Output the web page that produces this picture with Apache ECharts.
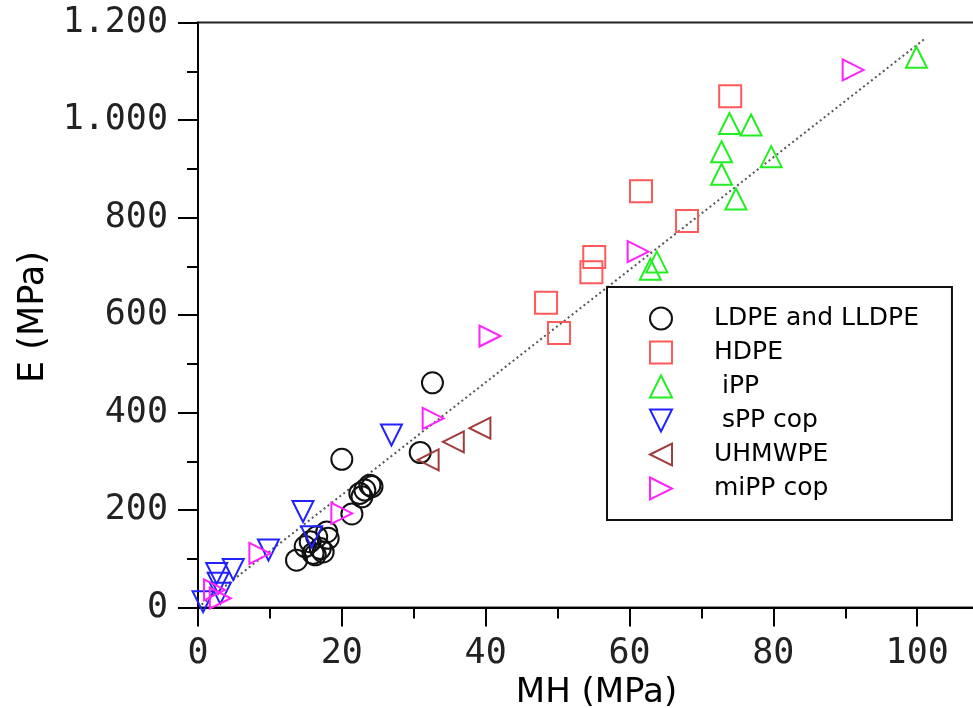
<!DOCTYPE html>
<html>
<head>
<meta charset="utf-8">
<script src="https://cdn.jsdelivr.net/npm/echarts@6/dist/echarts.min.js"></script>
<style>html,body{margin:0;padding:0;background:#fff}#c{width:973px;height:708px}</style>
</head>
<body>
<div id="c"></div>
<script>
// ---- data (MH in MPa, E in MPa) ----
const seriesNames = ['LDPE and LLDPE', 'HDPE', ' iPP', ' sPP cop', 'UHMWPE', 'miPP cop'];

const ldpeX = [32.6, 20.0, 30.9, 23.9, 24.2, 23.2, 22.5, 22.8, 21.4, 13.7, 16.0, 17.0, 15.6, 18.1, 16.5, 17.4, 14.9, 17.9, 16.3];
const ldpeY = [461, 304, 318, 251, 248, 241, 234, 227, 192, 97, 111, 121, 135, 142, 145, 114, 125, 155, 108];

const hdpeX = [74.0, 61.6, 68.0, 55.1, 54.7, 48.4, 50.2];
const hdpeY = [1049, 854, 793, 719, 688, 625, 563];

const ippX = [99.9, 73.9, 76.9, 72.8, 72.8, 79.7, 74.8, 62.9, 63.8];
const ippY = [1129, 993, 990, 935, 889, 925, 838, 694, 709];

const sppX = [26.9, 14.6, 15.8, 9.8, 4.9, 2.6, 2.8, 3.1, 0.7];
const sppY = [354, 197, 145, 118, 78, 70, 50, 29, 12];

const uhmwX = [39.2, 35.5, 32.0];
const uhmwY = [368, 340, 303];

const mippX = [91.1, 61.2, 40.6, 32.7, 20.0, 8.6, 2.3, 3.1];
const mippY = [1103, 730, 557, 388, 193, 111, 36, 19];

// linear fit (dotted)
const fitX = [0.5, 101];
const fitY = [6, 1166];

// tick labels
const yTickLabels = ['0', '200', '400', '600', '800', '1.000', '1.200'];
const xTickLabels = ['0', '20', '40', '60', '80', '100'];

const zip = (a, b) => a.map((v, i) => [v, b[i]]);

// legend icon shapes (drawn at native 21px size so the stroke is not scaled)
const TRI_UP = 'path://M10.5,0 L21,21 L0,21 Z';
const TRI_DOWN = 'path://M0,0 L21,0 L10.5,21 Z';
const TRI_LEFT = 'path://M0,10.5 L21,0 L21,21 Z';
const TRI_RIGHT = 'path://M0,0 L21,10.5 L0,21 Z';

const markerDefs = [
  { x: ldpeX, y: ldpeY, symbol: 'circle', icon: 'circle', rot: 0, color: '#111111', size: 21 },
  { x: hdpeX, y: hdpeY, symbol: 'rect', icon: 'rect', rot: 0, color: '#ff5a5a', size: 22 },
  { x: ippX, y: ippY, symbol: 'triangle', icon: TRI_UP, rot: 0, color: '#22ee22', size: 21 },
  { x: sppX, y: sppY, symbol: 'triangle', icon: TRI_DOWN, rot: 180, color: '#2222ff', size: 21 },
  { x: uhmwX, y: uhmwY, symbol: 'triangle', icon: TRI_LEFT, rot: 90, color: '#a03c3c', size: 21 },
  { x: mippX, y: mippY, symbol: 'triangle', icon: TRI_RIGHT, rot: -90, color: '#ff22ff', size: 21 }
];

const series = [{
  type: 'line',
  name: 'fit',
  data: zip(fitX, fitY),
  showSymbol: false,
  symbol: 'none',
  lineStyle: { color: '#555', width: 2, type: [2, 3] },
  silent: true,
  z: 1
}];
markerDefs.forEach((d, i) => {
  series.push({
    type: 'scatter',
    name: seriesNames[i],
    data: zip(d.x, d.y),
    symbol: d.symbol,
    symbolSize: d.size,
    symbolRotate: d.rot,
    symbolKeepAspect: true,
    itemStyle: { color: 'rgba(0,0,0,0)', borderColor: d.color, borderWidth: 2, opacity: 1 },
    z: 2
  });
});

const legendData = seriesNames.map((n, i) => ({
  name: n,
  icon: markerDefs[i].icon,
  itemStyle: { color: 'rgba(0,0,0,0)', borderColor: markerDefs[i].color, borderWidth: 2 }
}));

const chart = echarts.init(document.getElementById('c'), null, { renderer: 'canvas' });
chart.setOption({
  animation: false,
  backgroundColor: '#fff',
  grid: {
    left: 198, top: 22.6, height: 584.9, width: 863,
    containLabel: false, outerBoundsMode: 'none',
    show: true, borderColor: '#222', borderWidth: 2, backgroundColor: 'transparent'
  },
  xAxis: {
    type: 'value', min: 0, max: 120, interval: 20,
    name: 'MH (MPa)', nameLocation: 'middle', nameGap: 69,
    nameTextStyle: { fontFamily: 'DejaVu Sans', fontSize: 34, color: '#000', padding: [0, 0, 0, -66] },
    axisLine: { show: true, onZero: false, lineStyle: { color: '#000', width: 2 } },
    axisTick: { show: true, inside: false, length: 19, lineStyle: { color: '#000', width: 2 } },
    minorTick: { show: true, splitNumber: 2, length: 11, lineStyle: { color: '#000', width: 2 } },
    axisLabel: {
      margin: 29, fontFamily: 'DejaVu Sans Mono', fontSize: 35, color: '#222', showMaxLabel: false,
      formatter: v => { const i = Math.round(v / 20); return (v % 20 === 0 && i < xTickLabels.length) ? xTickLabels[i] : ''; }
    },
    splitLine: { show: false }
  },
  yAxis: {
    type: 'value', min: 0, max: 1200, interval: 200,
    name: 'E (MPa)', nameLocation: 'middle', nameGap: 143, nameRotate: 90,
    nameTextStyle: { fontFamily: 'DejaVu Sans', fontSize: 35, color: '#000', padding: [0, 0, 0, -4] },
    axisLine: { show: true, onZero: false, lineStyle: { color: '#000', width: 2 } },
    axisTick: { show: true, inside: false, length: 20, lineStyle: { color: '#000', width: 2 } },
    minorTick: { show: true, splitNumber: 2, length: 11, lineStyle: { color: '#000', width: 2 } },
    axisLabel: {
      margin: 30, fontFamily: 'DejaVu Sans Mono', fontSize: 35, color: '#222',
      formatter: v => yTickLabels[Math.round(v / 200)]
    },
    splitLine: { show: false }
  },
  legend: {
    data: legendData,
    orient: 'vertical',
    left: 607, top: 287,
    padding: [19, 33, 19, 42],
    itemWidth: 22, itemHeight: 22, itemGap: 9,
    symbolKeepAspect: true,
    borderColor: '#111', borderWidth: 2, backgroundColor: '#fff',
    textStyle: { fontFamily: 'DejaVu Sans', fontSize: 25, color: '#000', lineHeight: 22, padding: [0, 0, 0, 37] }
  },
  series: series
});
</script>
</body>
</html>
